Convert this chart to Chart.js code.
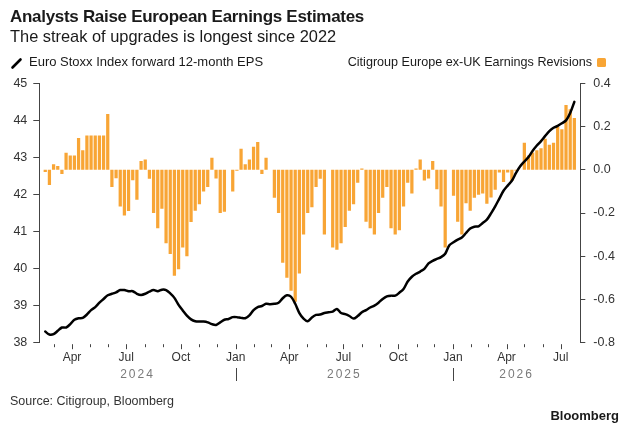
<!DOCTYPE html>
<html>
<head>
<meta charset="utf-8" />
<title>Analysts Raise European Earnings Estimates</title>
<script src="https://cdn.jsdelivr.net/npm/chart.js"></script>
<style>
  html, body { margin: 0; padding: 0; background: #fff; }
  body { width: 641px; height: 437px; position: relative; overflow: hidden;
         font-family: "Liberation Sans", Arial, sans-serif; color: #1a1a1a; }
  .abs { position: absolute; white-space: nowrap; }
  #title { left: 10px; top: 6px; font-size: 17px; font-weight: bold; letter-spacing: -0.3px; line-height: 22px; }
  #sub { left: 10px; top: 25px; font-size: 16.4px; line-height: 22px; }
  #legL { left: 29px; top: 54px; font-size: 13px; line-height: 16px; }
  #legR { right: 49px; top: 54px; font-size: 12.6px; line-height: 16px; }
  #sq { left: 597px; top: 58px; width: 9px; height: 9px; background: #f8a535; border-radius: 1.5px; }
  #src { left: 10px; top: 393px; font-size: 12.5px; line-height: 16px; color: #333; }
  #brand { right: 22px; top: 408px; font-size: 13px; font-weight: bold; line-height: 16px; }
  #c { position: absolute; left: 0; top: 0; }
</style>
</head>
<body>
  <canvas id="c" width="641" height="437"></canvas>
  <div class="abs" id="title">Analysts Raise European Earnings Estimates</div>
  <div class="abs" id="sub">The streak of upgrades is longest since 2022</div>
  <svg class="abs" style="left:10px;top:56px" width="14" height="14">
    <line x1="2.5" y1="11.5" x2="10.5" y2="3.5" stroke="#000" stroke-width="2.6" stroke-linecap="round"/>
  </svg>
  <div class="abs" id="legL">Euro Stoxx Index forward 12-month EPS</div>
  <div class="abs" id="legR">Citigroup Europe ex-UK Earnings Revisions</div>
  <div class="abs" id="sq"></div>
  <div class="abs" id="src">Source: Citigroup, Bloomberg</div>
  <div class="abs" id="brand">Bloomberg</div>
<script>
  // weekly observations, first one on this date
  const firstWeek = '2024-02-16';
  const axisStart = '2024-02-06';
  const axisEnd = '2026-08-03';
  const lastMonthTick = '2026-07-01';

  const monthLabels = ['Jan', '', '', 'Apr', '', '', 'Jul', '', '', 'Oct', '', ''];
  const yearLabels = ['2024', '2025', '2026'];

  // Citigroup Europe ex-UK earnings revisions (right axis)
  const revisions = [
    -0.01, -0.07, 0.026, 0.017, -0.02, 0.079, 0.066, 0.066, 0.147, 0.09,
    0.159, 0.159, 0.159, 0.159, 0.159, 0.258, -0.08, -0.039, -0.17, -0.211,
    -0.191, -0.049, -0.139, 0.04, 0.048, -0.042, -0.2, -0.27, -0.18, -0.34,
    -0.39, -0.49, -0.46, -0.36, -0.40, -0.242, -0.19, -0.16, -0.1, -0.08,
    0.056, -0.04, -0.2, -0.194, 0, -0.1, -0.005, 0.097, 0.026, 0.048,
    0.106, 0.128, -0.02, 0.056, 0, -0.13, -0.2, -0.43, -0.50, -0.56,
    -0.61, -0.48, -0.30, -0.2, -0.173, -0.08, -0.042, -0.30, 0, -0.36,
    -0.37, -0.34, -0.265, -0.19, -0.16, -0.06, 0.006, -0.24, -0.27, -0.30,
    -0.2, -0.13, -0.08, -0.27, -0.30, -0.28, -0.17, -0.06, -0.11, 0.006,
    0.048, -0.05, -0.04, 0.04, -0.09, -0.17, -0.36, 0, -0.12, -0.24,
    -0.30, -0.155, -0.19, -0.13, -0.115, -0.11, -0.157, -0.128, -0.092, -0.013,
    -0.057, -0.013, -0.052, -0.005, 0, 0.125, 0.066, 0.08, 0.09, 0.10,
    0.143, 0.116, 0.125, 0.20, 0.187, 0.30, 0.28, 0.24
  ];

  // Euro Stoxx forward 12-month EPS (left axis)
  const eps = [
    38.30, 38.22, 38.23, 38.32, 38.41, 38.41, 38.50, 38.62, 38.66, 38.67,
    38.76, 38.88, 38.96, 39.08, 39.18, 39.28, 39.32, 39.36, 39.42, 39.42,
    39.39, 39.39, 39.32, 39.29, 39.32, 39.38, 39.42, 39.39, 39.43, 39.42,
    39.33, 39.21, 39.02, 38.87, 38.73, 38.63, 38.58, 38.57, 38.57, 38.55,
    38.50, 38.48, 38.55, 38.62, 38.64, 38.69, 38.69, 38.67, 38.66, 38.74,
    38.88, 38.96, 38.99, 39.05, 39.04, 39.05, 39.08, 39.20, 39.28, 39.24,
    39.05, 38.80, 38.65, 38.58, 38.68, 38.75, 38.76, 38.80, 38.82, 38.84,
    38.91, 38.80, 38.77, 38.72, 38.65, 38.72, 38.82, 38.88, 38.95, 39.00,
    39.08, 39.18, 39.25, 39.27, 39.27, 39.35, 39.45, 39.65, 39.78, 39.86,
    39.92, 39.99, 40.14, 40.21, 40.26, 40.31, 40.40, 40.63, 40.71, 40.78,
    40.84, 40.96, 41.08, 41.13, 41.14, 41.23, 41.32, 41.49, 41.68, 41.89,
    42.10, 42.24, 42.37, 42.58, 42.76, 42.89, 43.01, 43.18, 43.32, 43.44,
    43.58, 43.71, 43.80, 43.85, 43.92, 44.00, 44.20, 44.50
  ];

  const DAY = 86400000;
  const origin = Date.UTC(2024, 0, 1);
  const dayOf = s => (Date.parse(s) - origin) / DAY;

  const xMin = dayOf(axisStart), xMax = dayOf(axisEnd);
  const weekDays = revisions.map((_, i) => dayOf(firstWeek) + 7 * i);

  // month ticks on the x axis
  const monthTicks = [];
  for (let y = 2024; y <= 2026; y++) {
    for (let m = 0; m < 12; m++) {
      const d = (Date.UTC(y, m, 1) - origin) / DAY;
      if (d > xMin && d <= dayOf(lastMonthTick)) monthTicks.push({ day: d, month: m, year: y });
    }
  }

  const axisColor = '#444';
  const labelFont = { family: '"Liberation Sans", Arial, sans-serif', size: 12.5 };

  const decor = {
    id: 'decor',
    afterDraw(chart) {
      const { ctx, chartArea, scales: { x } } = chart;
      ctx.save();
      ctx.strokeStyle = axisColor;
      ctx.lineWidth = 1;
      monthTicks.forEach(t => {
        const px = Math.round(x.getPixelForValue(t.day)) + 0.5;
        const len = monthLabels[t.month] ? 5 : 3;
        ctx.beginPath();
        ctx.moveTo(px, chartArea.bottom + 1.5);
        ctx.lineTo(px, chartArea.bottom + 1.5 + len);
        ctx.stroke();
      });
      // year row
      ctx.font = '12px "Liberation Sans", Arial, sans-serif';
      ctx.fillStyle = '#7a7a7a';
      ctx.textAlign = 'center';
      ctx.textBaseline = 'middle';
      if ('letterSpacing' in ctx) ctx.letterSpacing = '2px';
      yearLabels.forEach((yl, i) => {
        const y = +yl;
        const a = Math.max(xMin, (Date.UTC(y, 0, 1) - origin) / DAY);
        const b = Math.min(xMax, (Date.UTC(y + 1, 0, 1) - origin) / DAY);
        const cx = (x.getPixelForValue(a) + x.getPixelForValue(b)) / 2;
        ctx.fillText(yl, cx, 375);
        if (i > 0) {
          const sx = Math.round(x.getPixelForValue(a)) + 0.5;
          ctx.beginPath();
          ctx.moveTo(sx, 368);
          ctx.lineTo(sx, 381);
          ctx.stroke();
        }
      });
      ctx.restore();
    }
  };

  new Chart(document.getElementById('c'), {
    type: 'bar',
    data: {
      datasets: [
        {
          type: 'line',
          label: 'Euro Stoxx Index forward 12-month EPS',
          data: eps.map((v, i) => ({ x: weekDays[i], y: v })),
          yAxisID: 'y',
          borderColor: '#000',
          borderWidth: 2.5,
          pointRadius: 0,
          tension: 0.3,
          borderJoinStyle: 'round',
          borderCapStyle: 'round',
          order: 0
        },
        {
          type: 'bar',
          label: 'Citigroup Europe ex-UK Earnings Revisions',
          data: revisions.map((v, i) => ({ x: weekDays[i], y: v })),
          yAxisID: 'y1',
          backgroundColor: '#f8a535',
          barPercentage: 0.78,
          categoryPercentage: 1,
          order: 1
        }
      ]
    },
    options: {
      responsive: false,
      animation: false,
      layout: { padding: { top: 83.3, left: 0, right: 0, bottom: 0 } },
      plugins: { legend: { display: false }, tooltip: { enabled: false } },
      scales: {
        x: {
          type: 'linear',
          min: xMin,
          max: xMax,
          offset: false,
          grid: { display: false, drawTicks: false },
          border: { display: false },
          afterBuildTicks: s => { s.ticks = monthTicks.map(t => ({ value: t.day })); },
          afterFit: s => { s.height = 94.3; },
          ticks: {
            autoSkip: false, maxRotation: 0, minRotation: 0, padding: 8,
            color: '#333', font: { family: labelFont.family, size: 12 },
            callback: v => monthLabels[new Date(origin + v * DAY).getUTCMonth()]
          }
        },
        y: {
          position: 'left',
          min: 38, max: 45,
          afterFit: s => { s.width = 39.3; },
          grid: { drawOnChartArea: false, drawTicks: true, tickLength: 6, tickColor: axisColor },
          border: { display: true, color: axisColor },
          ticks: { stepSize: 1, padding: 6, color: '#333', font: labelFont }
        },
        y1: {
          position: 'right',
          min: -0.8, max: 0.4,
          afterFit: s => { s.width = 60.7; },
          grid: { drawOnChartArea: false, drawTicks: true, tickLength: 5, tickColor: axisColor },
          border: { display: true, color: axisColor },
          ticks: {
            stepSize: 0.2, padding: 8, color: '#333', font: labelFont,
            callback: v => Math.abs(v) < 1e-9 ? '0.0' : v.toFixed(1)
          }
        }
      }
    },
    plugins: [decor]
  });
</script>
</body>
</html>
